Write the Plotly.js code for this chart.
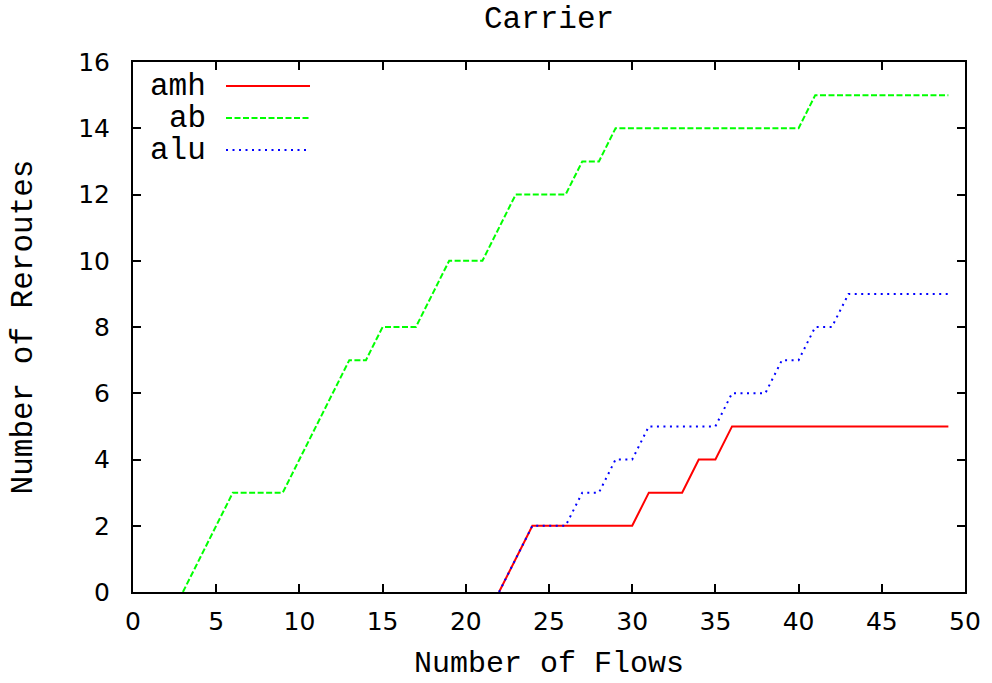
<!DOCTYPE html>
<html>
<head>
<meta charset="utf-8">
<script src="https://cdn.plot.ly/plotly-3.0.1.min.js"></script>
<style>html,body{margin:0;padding:0;background:#fff;}#chart{width:992px;height:683px;}</style>
</head>
<body>
<div id="chart"></div>
<script>
// Data
var seriesNames = ["amh", "ab", "alu"];
var amhX = [22,23,24,25,26,27,28,29,30,31,32,33,34,35,36,37,38,39,40,41,42,43,44,45,46,47,48,49];
var amhY = [0,1,2,2,2,2,2,2,2,3,3,3,4,4,5,5,5,5,5,5,5,5,5,5,5,5,5,5];
var abX = [3,4,5,6,7,8,9,10,11,12,13,14,15,16,17,18,19,20,21,22,23,24,25,26,27,28,29,30,31,32,33,34,35,36,37,38,39,40,41,42,43,44,45,46,47,48,49];
var abY = [0,1,2,3,3,3,3,4,5,6,7,7,8,8,8,9,10,10,10,11,12,12,12,12,13,13,14,14,14,14,14,14,14,14,14,14,14,14,15,15,15,15,15,15,15,15,15];
var aluX = [22,23,24,25,26,27,28,29,30,31,32,33,34,35,36,37,38,39,40,41,42,43,44,45,46,47,48,49];
var aluY = [0,1,2,2,2,3,3,4,4,5,5,5,5,5,6,6,6,7,7,8,8,9,9,9,9,9,9,9];
var xTicks = [0,5,10,15,20,25,30,35,40,45,50];
var yTicks = [0,2,4,6,8,10,12,14,16];

var colors = ["#ff0000", "#00ff00", "#0000ff"];
var dashes = ["solid", "6px,2.5px", "2px,4.5px"];

var W = 992, H = 683, L = 133, R = 965, T = 62, B = 592;
function px2x(p){ return (p - L) / (R - L); }
function px2y(p){ return (B - p) / (B - T); }

var xs = [amhX, abX, aluX], ys = [amhY, abY, aluY];
var traces = seriesNames.map(function(n, i){
  return {x: xs[i], y: ys[i], name: n, type: 'scatter', mode: 'lines',
    line: {color: colors[i], width: 2, dash: dashes[i]}, showlegend: false, hoverinfo: 'skip'};
});

var mono = "Liberation Mono, Courier New, monospace";
var legendRows = [86, 118, 150];
var annotations = [], shapes = [];
seriesNames.forEach(function(n, i){
  annotations.push({text: n, xref: 'paper', yref: 'paper', x: px2x(208), y: px2y(legendRows[i]),
    xanchor: 'right', yanchor: 'middle', height: 30, showarrow: false, font: {family: mono, size: 31, color: '#000'}});
  shapes.push({type: 'line', xref: 'paper', yref: 'paper', x0: px2x(226), x1: px2x(310),
    y0: px2y(legendRows[i]), y1: px2y(legendRows[i]), line: {color: colors[i], width: 2, dash: dashes[i]}});
});
// x axis title placed as an annotation so it can sit lower than the margin constraint allows
annotations.push({text: 'Number of Flows', xref: 'paper', yref: 'paper', x: 0.5, y: px2y(664),
  xanchor: 'center', yanchor: 'middle', showarrow: false, font: {family: mono, size: 30, color: '#000'}});

var axisCommon = {
  showgrid: false, zeroline: false, showline: true, linecolor: '#000', linewidth: 2,
  mirror: 'allticks', ticks: 'inside', ticklen: 8, tickwidth: 2, tickcolor: '#000',
  tickfont: {family: "DejaVu Sans, sans-serif", size: 25, color: '#000'}
};

var layout = {
  width: W, height: H,
  margin: {l: L, r: W - R, t: T, b: H - B, pad: 0},
  paper_bgcolor: '#fff', plot_bgcolor: '#fff',
  title: {text: 'Carrier', font: {family: mono, size: 31, color: '#000'}, x: 0.5 * (L + R) / W, xanchor: 'center', y: 1 - 17 / H, yanchor: 'middle'},
  xaxis: Object.assign({}, axisCommon, {range: [0, 50], tickvals: xTicks, ticktext: xTicks.map(String),
    ticklabelstandoff: 6}),
  yaxis: Object.assign({}, axisCommon, {range: [0, 16], tickvals: yTicks, ticktext: yTicks.map(String),
    ticklabelstandoff: 16,
    title: {text: 'Number of Reroutes', font: {family: mono, size: 31, color: '#000'}, standoff: 36}}),
  annotations: annotations,
  shapes: shapes,
  showlegend: false
};

Plotly.newPlot('chart', traces, layout, {staticPlot: true, displayModeBar: false});
</script>
</body>
</html>
